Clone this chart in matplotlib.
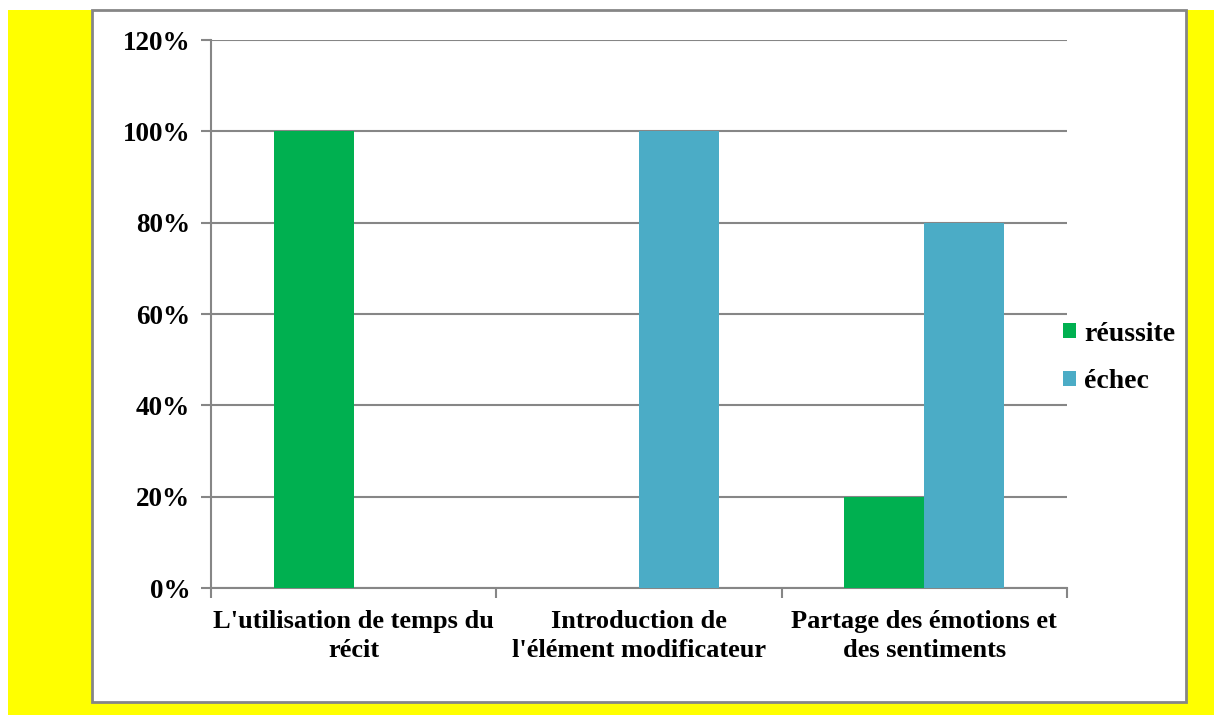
import matplotlib
matplotlib.use("Agg")
import matplotlib.pyplot as plt
import matplotlib.transforms as mtransforms
from matplotlib.patches import Rectangle
from matplotlib.ticker import FixedLocator, NullFormatter, PercentFormatter

categories = [
    "L'utilisation de temps du\nrécit",
    "Introduction de\nl'élément modificateur",
    "Partage des émotions et\ndes sentiments",
]
series_names = ["réussite", "échec"]
reussite = [1.00, 0.00, 0.20]
echec = [0.00, 1.00, 0.80]
y_ticks = [0.0, 0.2, 0.4, 0.6, 0.8, 1.0, 1.2]

GREEN = "#00B050"
BLUE = "#4BACC6"
GRAY = "#868686"

plt.rcParams["font.family"] = ["Liberation Serif", "DejaVu Serif"]
plt.rcParams["font.weight"] = "bold"

W, H = 1214, 715
fig = plt.figure(figsize=(W / 100, H / 100), dpi=100)
fig.patch.set_facecolor("white")

# yellow backdrop and white framed panel
fig.patches.append(Rectangle((8 / W, 0), 1 - 8 / W, 1 - 10 / H, transform=fig.transFigure,
                             facecolor="#FFFF00", edgecolor="none", zorder=0))
fig.patches.append(Rectangle((92 / W, 1 - 702 / H), (1186 - 92) / W, (702 - 10) / H,
                             transform=fig.transFigure, facecolor="white",
                             edgecolor=GRAY, linewidth=2, zorder=1))

ax = fig.add_axes([211 / W, 1 - 588 / H, (1067 - 211) / W, (588 - 40) / H])
ax.set_facecolor("none")
ax.set_zorder(2)

x = list(range(len(categories)))
bw = 0.28
ax.bar([i - bw / 2 for i in x], reussite, width=bw, color=GREEN, label=series_names[0], zorder=3)
ax.bar([i + bw / 2 for i in x], echec, width=bw, color=BLUE, label=series_names[1], zorder=3)

ax.set_xlim(-0.5, len(categories) - 0.5)
ax.set_ylim(0, 1.2)
ax.set_yticks(y_ticks)
ax.yaxis.set_major_formatter(PercentFormatter(1.0, decimals=0))
ax.yaxis.grid(True, color=GRAY, linewidth=1.5, zorder=0)
ax.set_axisbelow(True)

# category boundaries carry the tick marks; names sit centred under each group
ax.xaxis.set_major_locator(FixedLocator([i - 0.5 for i in range(len(categories) + 1)]))
ax.xaxis.set_major_formatter(NullFormatter())
ax.tick_params(axis="x", which="major", length=7, width=1.5, color=GRAY, direction="out")
ax.tick_params(axis="y", length=7, width=1.5, color=GRAY, direction="out", labelsize=19.5, pad=8)
for lbl in ax.get_yticklabels():
    lbl.set_fontweight("bold")

label_tf = mtransforms.blended_transform_factory(ax.transData, ax.transAxes) + \
    mtransforms.ScaledTranslation(0, -15.7 / 72, fig.dpi_scale_trans)
for xi, name in zip(x, categories):
    ax.text(xi, 0, name, transform=label_tf, ha="center", va="top", multialignment="center",
            fontsize=19, fontweight="bold", linespacing=1.33)

for side in ("top", "right"):
    ax.spines[side].set_visible(False)
for side in ("left", "bottom"):
    ax.spines[side].set_color(GRAY)
    ax.spines[side].set_linewidth(1.5)

leg = fig.legend(loc="center left", bbox_to_anchor=(1038 / W, 1 - 358 / H), frameon=False,
                 prop={"size": 20, "weight": "bold"}, handlelength=0.48, handleheight=0.48,
                 handletextpad=0.28, labelspacing=0.82)

fig.savefig("out.png", dpi=100, facecolor=fig.get_facecolor())
